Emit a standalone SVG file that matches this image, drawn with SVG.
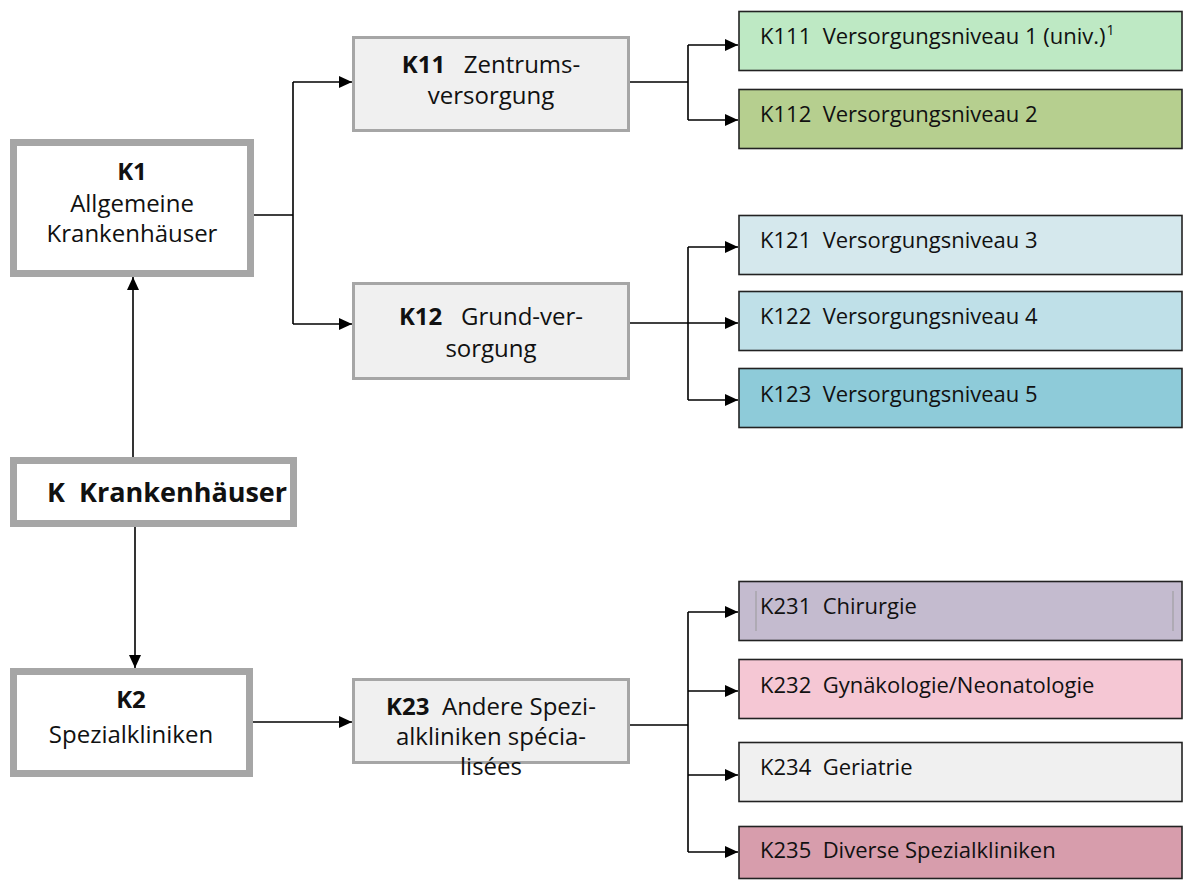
<svg xmlns="http://www.w3.org/2000/svg" width="1184" height="880" viewBox="0 0 1184 880">
<defs>
<marker id="arr" markerUnits="userSpaceOnUse" markerWidth="14" markerHeight="14" refX="13" refY="7" orient="auto">
<path d="M0,1 L13,7 L0,13 z" fill="#000"/>
</marker>
<style>
text{font-family:"Open Sans","Noto Sans","DejaVu Sans",sans-serif;fill:#111;font-size:24px;white-space:pre}
.lf{font-size:22px}
.b{font-weight:bold}
.main{fill:#fff;stroke:#a6a6a6;stroke-width:7}
.mid{fill:#f0f0f0;stroke:#a6a6a6;stroke-width:3}
.leaf{stroke:#222;stroke-width:1.6}
.c{text-anchor:middle}
.ln{fill:none;stroke:#000;stroke-width:1.6}
.la{fill:none;stroke:#000;stroke-width:1.6;marker-end:url(#arr)}
</style>
</defs>
<rect width="1184" height="880" fill="#fff"/>

<g id="connectors">
<path class="la" d="M133,457 V277"/>
<path class="la" d="M135,527 V668"/>
<path class="ln" d="M254,215 H293 M293,82 V324"/>
<path class="la" d="M293,82 H352"/>
<path class="la" d="M293,324 H352"/>
<path class="ln" d="M630,82 H688 M688,45 V120"/>
<path class="la" d="M688,45 H738"/>
<path class="la" d="M688,120 H738"/>
<path class="ln" d="M688,247 V400"/>
<path class="la" d="M630,323 H738"/>
<path class="la" d="M688,247 H738"/>
<path class="la" d="M688,400 H738"/>
<path class="la" d="M253,722 H352"/>
<path class="ln" d="M630,725 H688 M688,612 V852"/>
<path class="la" d="M688,612 H738"/>
<path class="la" d="M688,691 H738"/>
<path class="la" d="M688,775 H738"/>
<path class="la" d="M688,852 H738"/>
</g>

<g id="K">
<rect class="main" x="13.5" y="460.5" width="280" height="63"/>
<text x="47" y="502" class="b" style="font-size:27px">K  Krankenhäuser</text>
</g>
<g id="K1">
<rect class="main" x="13.5" y="142.5" width="237" height="131"/>
<text class="c" x="132" y="180"><tspan class="b">K1</tspan><tspan x="132" y="212">Allgemeine</tspan><tspan x="132" y="242">Krankenhäuser</tspan></text>
</g>
<g id="K2">
<rect class="main" x="13.5" y="671.5" width="236" height="102"/>
<text class="c" x="131" y="708"><tspan class="b">K2</tspan><tspan x="131" y="743">Spezialkliniken</tspan></text>
</g>
<g id="K11">
<rect class="mid" x="353.5" y="37.5" width="275" height="93"/>
<text class="c" x="491" y="73"><tspan class="b">K11</tspan>   Zentrums-<tspan x="491" y="104">versorgung</tspan></text>
</g>
<g id="K12">
<rect class="mid" x="353.5" y="283.5" width="275" height="95"/>
<text class="c" x="491" y="325"><tspan class="b">K12</tspan>   Grund-ver-<tspan x="491" y="357">sorgung</tspan></text>
</g>
<g id="K23">
<rect class="mid" x="353.5" y="679.5" width="275" height="83"/>
<text class="c" x="491" y="715"><tspan class="b">K23</tspan>  Andere Spezi-<tspan x="491" y="745">alkliniken spécia-</tspan><tspan x="491" y="775">lisées</tspan></text>
</g>

<g id="K111">
<rect class="leaf" x="739" y="11.5" width="443" height="59" fill="#bee9c4"/>
<text class="lf" x="760" y="44">K111  Versorgungsniveau 1 (univ.)<tspan font-size="14" dx="1" dy="-9">1</tspan></text>
</g>
<g id="K112">
<rect class="leaf" x="739" y="89.5" width="443" height="59" fill="#b6cf8f"/>
<text class="lf" x="760" y="122">K112  Versorgungsniveau 2</text>
</g>
<g id="K121">
<rect class="leaf" x="739" y="215.5" width="443" height="59" fill="#d5e8ed"/>
<text class="lf" x="760" y="248">K121  Versorgungsniveau 3</text>
</g>
<g id="K122">
<rect class="leaf" x="739" y="291.5" width="443" height="59" fill="#bfe0e8"/>
<text class="lf" x="760" y="324">K122  Versorgungsniveau 4</text>
</g>
<g id="K123">
<rect class="leaf" x="739" y="368.5" width="443" height="59" fill="#8ecbd9"/>
<text class="lf" x="760" y="402">K123  Versorgungsniveau 5</text>
</g>
<g id="K231">
<rect class="leaf" x="739" y="581.5" width="443" height="59" fill="#c4bbcf"/>
<path d="M756,591 V631 M1173,591 V631" stroke="#999" stroke-width="1"/>
<text class="lf" x="760" y="614">K231  Chirurgie</text>
</g>
<g id="K232">
<rect class="leaf" x="739" y="659.5" width="443" height="59" fill="#f5c7d4"/>
<text class="lf" x="760" y="693">K232  Gynäkologie/Neonatologie</text>
</g>
<g id="K234">
<rect class="leaf" x="739" y="742.5" width="443" height="59" fill="#f0f0f0"/>
<text class="lf" x="760" y="775">K234  Geriatrie</text>
</g>
<g id="K235">
<rect class="leaf" x="739" y="826.5" width="443" height="52" fill="#d79dac"/>
<text class="lf" x="760" y="858">K235  Diverse Spezialkliniken</text>
</g>
</svg>
